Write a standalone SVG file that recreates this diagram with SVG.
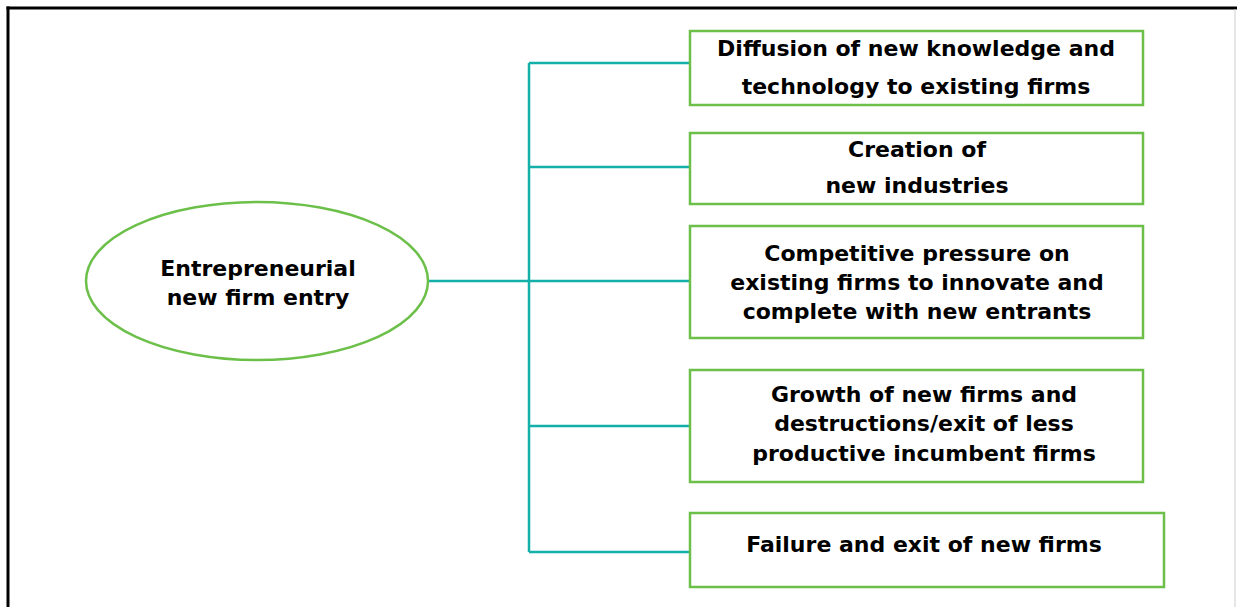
<svg xmlns="http://www.w3.org/2000/svg" width="1237" height="607" viewBox="0 0 1237 607">
<style>
.box{fill:#fff;stroke:#6cc04a;stroke-width:2.5}
.conn{stroke:#12b0a8;stroke-width:2.5;fill:none}
text{font-family:"DejaVu Sans","Liberation Sans",sans-serif;font-weight:bold;font-size:22px;fill:#000;text-anchor:middle}
</style>
<rect width="1237" height="607" fill="#fff"/>
<g id="frame">
<line x1="6.5" y1="8" x2="1237" y2="8" stroke="#000" stroke-width="3"/>
<line x1="8" y1="6.5" x2="8" y2="607" stroke="#000" stroke-width="3"/>
<line x1="1235" y1="9" x2="1235" y2="607" stroke="#ccc" stroke-width="1"/>
</g>
<g id="connectors">
<path class="conn" d="M529 63 V552"/>
<path class="conn" d="M529 63 H690"/>
<path class="conn" d="M529 167 H690"/>
<path class="conn" d="M428 281 H690"/>
<path class="conn" d="M529 426 H690"/>
<path class="conn" d="M529 552 H690"/>
</g>
<g id="entry">
<ellipse cx="257" cy="281" rx="171" ry="79" fill="#fff" stroke="#6cc04a" stroke-width="2.5"/>
<text x="258" y="276">Entrepreneurial</text>
<text x="258" y="305">new firm entry</text>
</g>
<g id="diffusion">
<rect class="box" x="690" y="31" width="453" height="74"/>
<text x="916" y="56">Diffusion of new knowledge and</text>
<text x="916" y="94">technology to existing firms</text>
</g>
<g id="creation">
<rect class="box" x="690" y="133" width="453" height="71"/>
<text x="917" y="157">Creation of</text>
<text x="917" y="193">new industries</text>
</g>
<g id="competitive">
<rect class="box" x="690" y="226" width="453" height="112"/>
<text x="917" y="261">Competitive pressure on</text>
<text x="917" y="290">existing firms to innovate and</text>
<text x="917" y="319">complete with new entrants</text>
</g>
<g id="growth">
<rect class="box" x="690" y="370" width="453" height="112"/>
<text x="924" y="402">Growth of new firms and</text>
<text x="924" y="431">destructions/exit of less</text>
<text x="924" y="461">productive incumbent firms</text>
</g>
<g id="failure">
<rect class="box" x="690" y="513" width="474" height="74"/>
<text x="924" y="552">Failure and exit of new firms</text>
</g>
</svg>
